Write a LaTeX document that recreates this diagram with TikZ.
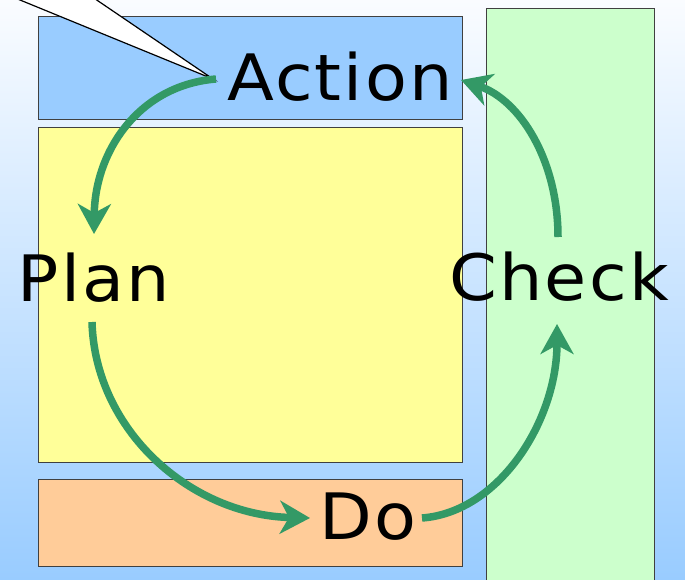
\documentclass[tikz,border=0pt]{standalone}
\usepackage{fontspec}
\setmainfont[FakeStretch=1.07,LetterSpace=3.5]{DejaVu Sans}
\usetikzlibrary{arrows.meta}
\definecolor{bgtop}{HTML}{FAFCFF}
\definecolor{bgbot}{HTML}{99CCFF}
\definecolor{actblue}{HTML}{99CCFF}
\definecolor{planyel}{HTML}{FFFF99}
\definecolor{doorange}{HTML}{FFCC99}
\definecolor{chkgreen}{HTML}{CCFFCC}
\definecolor{arrgreen}{HTML}{339966}
\definecolor{boxedge}{HTML}{404040}
\tikzset{
  panel/.style={draw=boxedge, line width=1.2pt},
  word/.style={font=\fontsize{64}{64}\selectfont, inner sep=0pt, text=black},
  cyc/.style={draw=arrgreen, line width=7.5pt, -{Stealth[length=30pt,width=33pt,inset=9pt]}},
}
\begin{document}
\begin{tikzpicture}[x=1pt,y=-1pt]
\useasboundingbox (0,0) rectangle (685,579);
\clip (0,0) rectangle (685,579);
\shade[top color=bgtop, bottom color=bgbot] (0,0) rectangle (685,579);
% panels
\node[panel, fill=actblue, minimum width=424pt, minimum height=103pt, anchor=north west, inner sep=0pt] (pa) at (38,16) {};
\node[panel, fill=planyel, minimum width=424pt, minimum height=335pt, anchor=north west, inner sep=0pt] (pp) at (38,127) {};
\node[panel, fill=doorange, minimum width=424pt, minimum height=87pt, anchor=north west, inner sep=0pt] (pd) at (38,479) {};
\node[panel, fill=chkgreen, minimum width=168pt, minimum height=600pt, anchor=north west, inner sep=0pt] (pc) at (486,8) {};
% callout wedge
\coordinate (tip) at (213,79);
\filldraw[fill=white, draw=black, line width=1.2pt] (-4.4,-10) -- (tip) -- (82,-10) -- cycle;
% words
\node[word, anchor=base] (action) at (340,100) {Action};
\node[word, anchor=base] (plan) at (94,301) {Plan};
\node[word, anchor=base] (check) at (559,300) {Check};
\node[word, anchor=base] (do) at (368,539) {Do};
% endpoints
\coordinate (a1s) at (216,79);
\coordinate (a1e) at (94,234);
\coordinate (a2s) at (92,322);
\coordinate (a2e) at (310,518);
\coordinate (a3s) at (422,518);
\coordinate (a3e) at (557,324);
\coordinate (a4s) at (558,237);
\coordinate (a4e) at (461,80);
% cycle arrows
\draw[cyc] (a1s) .. controls (140,85) and (95,150) .. (a1e);
\draw[cyc] (a2s) .. controls (95,430) and (190,515) .. (a2e);
\draw[cyc] (a3s) .. controls (500,512) and (557,420) .. (a3e);
\draw[cyc] (a4s) .. controls (558,160) and (520,100) .. (a4e);
\end{tikzpicture}
\end{document}
